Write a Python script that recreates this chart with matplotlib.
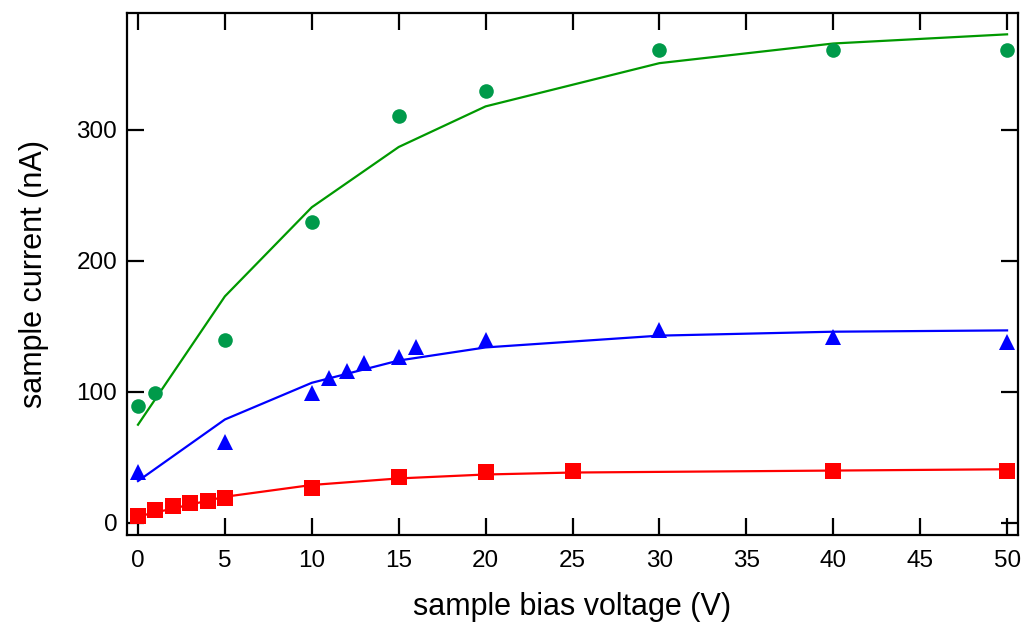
import matplotlib
matplotlib.use("Agg")
import matplotlib.pyplot as plt

plt.rcParams['font.family'] = ['Liberation Sans', 'DejaVu Sans']

# green: circles (data) and line (fit)
green_x = [0, 1, 5, 10, 15, 20, 30, 40, 50]
green_y = [89, 99, 140, 230, 311, 330, 361, 361, 361]
green_fit_x = [0, 5, 10, 15, 20, 30, 40, 50]
green_fit_y = [75, 173, 241, 287, 318, 351, 366, 373]

# blue: triangles and line
blue_x = [0, 5, 10, 11, 12, 13, 15, 16, 20, 30, 40, 50]
blue_y = [39, 62, 99, 111, 116, 122, 127, 134, 140, 147, 142, 138]
blue_fit_x = [0, 5, 10, 15, 20, 30, 40, 50]
blue_fit_y = [32, 79, 107, 124, 134, 143, 146, 147]

# red: squares and line
red_x = [0, 1, 2, 3, 4, 5, 10, 15, 20, 25, 40, 50]
red_y = [5, 10, 13, 15, 17, 19, 27, 35, 39, 40, 40, 40]
red_fit_x = [0, 5, 10, 15, 20, 25, 40, 50]
red_fit_y = [5, 20, 29, 34, 37, 38.5, 40, 41]

fig = plt.figure(figsize=(10.22, 6.27), dpi=100)
ax = fig.add_axes([0.1243, 0.1467, 0.8718, 0.8326])

ax.plot(green_fit_x, green_fit_y, color='#009900', lw=1.6)
ax.plot(green_x, green_y, 'o', color='#009a4a', ms=10.5, mew=0)
ax.plot(blue_fit_x, blue_fit_y, color='#0000ff', lw=1.6)
ax.plot(blue_x, blue_y, '^', color='#0000ff', ms=12, mew=0)
ax.plot(red_fit_x, red_fit_y, color='#ff0000', lw=1.6)
ax.plot(red_x, red_y, 's', color='#ff0000', ms=11, mew=0)

ax.set_xlim(-0.63, 50.63)
ax.set_ylim(-9.2, 389.3)
ax.set_xticks(range(0, 51, 5))
ax.set_yticks([0, 100, 200, 300])

for s in ax.spines.values():
    s.set_linewidth(1.6)
ax.tick_params(direction='in', length=12.5, width=1.6, top=True, right=True,
               labelsize=17.5)
ax.tick_params(axis='x', pad=11)
ax.tick_params(axis='y', pad=7)

ax.set_xlabel('sample bias voltage (V)', fontsize=22, labelpad=14)
ax.set_ylabel('sample current (nA)', fontsize=22, labelpad=20)

fig.savefig('out.png', dpi=100)
